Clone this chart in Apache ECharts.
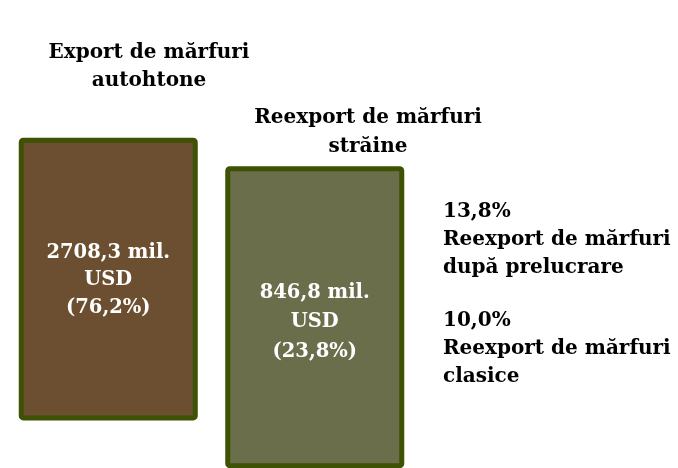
<!DOCTYPE html>
<html><head><meta charset="utf-8">
<script src="https://cdn.jsdelivr.net/npm/echarts@6/dist/echarts.min.js"></script>
<style>html,body{margin:0;padding:0;background:#fff}#c{width:678px;height:468px}</style>
</head><body><div id="c"></div>
<script>
// Data
const categories = ['Export de mărfuri autohtone', 'Reexport de mărfuri străine'];
const valuesMil = ['2708,3', '846,8'];
const shares = ['76,2%', '23,8%'];
// visual extent of each block (diagram units; blocks are not drawn to scale in the original)
const blockBase = [20.2, 10];
const blockSpan = [60.4, 64.5];
const subShares = ['13,8%', '10,0%'];
const subNames = ['Reexport de mărfuri\ndupă prelucrare', 'Reexport de mărfuri\nclasice'];
const titles = ['Export de mărfuri\nautohtone', 'Reexport de mărfuri\nstrăine'];

const fills = ['#6C4F31', '#6B6E4B'];
const labelOffsets = [[0, 1], [0, 5]];
const labelLineHeights = [27.5, 29.5];
const FONT = '"DejaVu Serif", serif';

const chart = echarts.init(document.getElementById('c'), null, {renderer: 'canvas'});
chart.setOption({
  animation: false,
  grid: {left: 5, width: 413, top: 0, height: 515, outerBoundsMode: 'none', containLabel: false},
  xAxis: {type: 'category', data: categories, show: false},
  yAxis: {type: 'value', min: 0, max: 110, show: false},
  series: [
    {type: 'bar', stack: 's', data: blockBase, itemStyle: {color: 'transparent'}, barWidth: 179, silent: true},
    {type: 'bar', stack: 's', barWidth: 179,
      data: blockSpan.map((v, i) => ({value: v, itemStyle: {color: fills[i]},
        label: {offset: labelOffsets[i], lineHeight: labelLineHeights[i]}})),
      itemStyle: {borderColor: '#3D5203', borderWidth: 5, borderRadius: 2},
      label: {show: true, position: 'inside', color: '#fff', fontFamily: FONT, fontWeight: 'bold',
        fontSize: 19.5, lineHeight: 28,
        formatter: p => valuesMil[p.dataIndex] + ' mil.\nUSD\n(' + shares[p.dataIndex] + ')'}
    }
  ],
  graphic: [
    {type: 'text', x: 149, y: 67, style: {text: titles[0], align: 'center', verticalAlign: 'middle', font: 'bold 20px ' + FONT, lineHeight: 28, fill: '#000'}},
    {type: 'text', x: 368, y: 132, style: {text: titles[1], align: 'center', verticalAlign: 'middle', font: 'bold 20px ' + FONT, lineHeight: 29, fill: '#000'}},
    {type: 'text', x: 443, y: 240, style: {text: subShares[0] + '\n' + subNames[0], align: 'left', verticalAlign: 'middle', font: 'bold 20px ' + FONT, lineHeight: 28, fill: '#000'}},
    {type: 'text', x: 443, y: 349, style: {text: subShares[1] + '\n' + subNames[1], align: 'left', verticalAlign: 'middle', font: 'bold 20px ' + FONT, lineHeight: 28, fill: '#000'}}
  ]
});
</script></body></html>
